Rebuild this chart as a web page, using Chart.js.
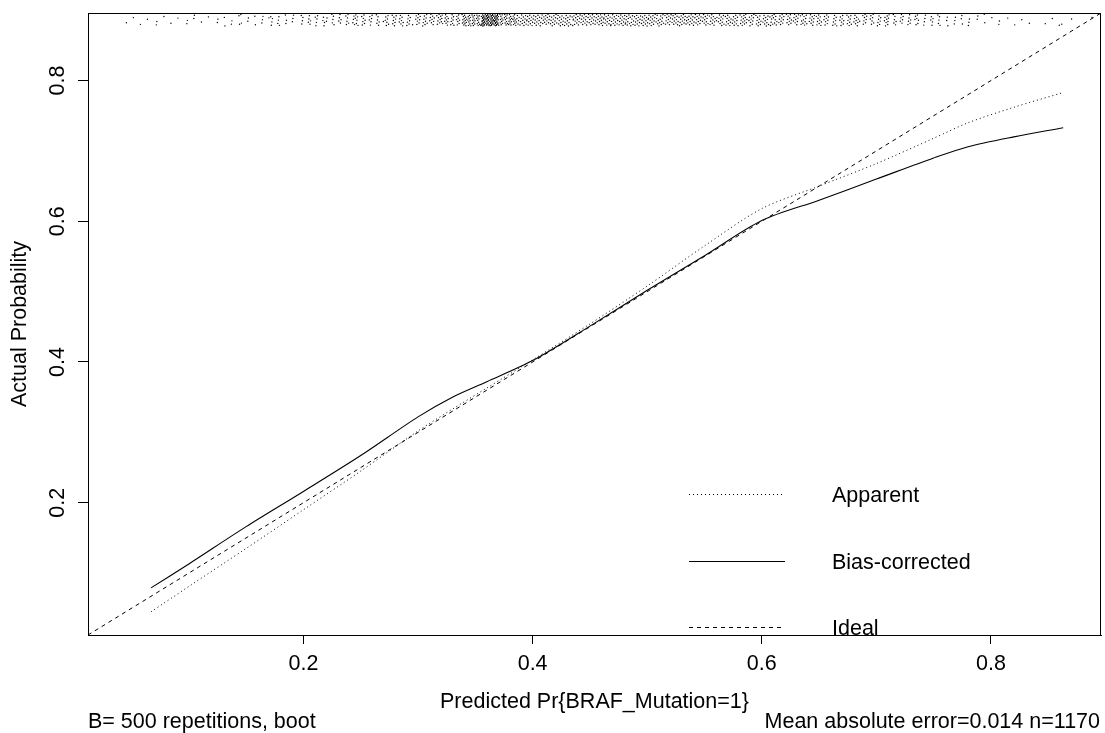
<!DOCTYPE html>
<html>
<head>
<meta charset="utf-8">
<script src="https://cdn.jsdelivr.net/npm/chart.js@4.4.1/dist/chart.umd.min.js"></script>
<style>
  body { margin: 0; background: #fff; }
  #wrap { width: 1105px; height: 733px; }
</style>
</head>
<body>
<div id="wrap"><canvas id="calib"></canvas></div>
<script>
'use strict';

// calibration curves
let predX = [0.067, 0.1, 0.15, 0.2, 0.25, 0.3, 0.33, 0.36, 0.4, 0.45, 0.5, 0.55, 0.6, 0.65, 0.7, 0.75, 0.78, 0.82, 0.863];
let apparent = [0.045, 0.081, 0.135, 0.19, 0.245, 0.302, 0.333, 0.363, 0.403, 0.454, 0.508, 0.565, 0.618, 0.65, 0.682, 0.718, 0.74, 0.762, 0.783];
let biasCorrected = [0.079, 0.113, 0.166, 0.216, 0.267, 0.322, 0.35, 0.372, 0.402, 0.451, 0.502, 0.551, 0.601, 0.63, 0.66, 0.69, 0.706, 0.72, 0.733];

let axisMin = 0.012;
let axisMax = 0.896;
let tickVals = [0.2, 0.4, 0.6, 0.8];

// distribution of predictions shown at the top (bin edges + counts)
let rugEdges = [0.045, 0.07, 0.095, 0.12, 0.145, 0.17, 0.195, 0.22, 0.245, 0.27, 0.295, 0.32, 0.34,
  0.355, 0.37, 0.385, 0.41, 0.435, 0.46, 0.485, 0.51, 0.535, 0.56, 0.585, 0.61, 0.635, 0.66,
  0.685, 0.71, 0.735, 0.76, 0.785, 0.81, 0.835, 0.86, 0.895];
let rugCounts = [4, 5, 6, 8, 10, 14, 18, 22, 26, 30, 36, 34, 40, 90, 40,
  50, 48, 50, 52, 50, 48, 46, 44, 42, 40, 38, 34, 30, 24, 18, 12, 7, 4, 3, 3];

let legendNames = ['Apparent', 'Bias-corrected', 'Ideal'];
let footLeft = 'B= 500 repetitions, boot';
let footRight = 'Mean absolute error=0.014 n=1170';

let FONT = '"Liberation Sans", Arial, Helvetica, sans-serif';

// rug points laid out in each bin with a low-discrepancy pattern
let rugPts = [];
for (let i = 0; i < rugCounts.length; i++) {
  let a = rugEdges[i], b = rugEdges[i + 1], c = rugCounts[i];
  for (let k = 0; k < c; k++) {
    let fx = (0.31 * i + (k + 1) * 0.7548776662) % 1;
    let fy = (0.53 * i + (k + 1) * 0.5698402910) % 1;
    rugPts.push({ x: a + fx * (b - a), y: 0.8775 + fy * 0.0168 });
  }
}

let styles = [
  { dash: [1, 3], width: 1 },
  { dash: [], width: 1.1 },
  { dash: [4, 4], width: 1 }
];

// box, y labels, legend and footer text
let extras = {
  id: 'extras',
  afterDraw(chart) {
    let ctx = chart.ctx;
    let a = chart.chartArea;
    ctx.save();
    ctx.strokeStyle = '#000';
    ctx.lineWidth = 1;
    ctx.setLineDash([]);
    ctx.strokeRect(a.left + 0.5, a.top + 0.5, a.right - a.left - 1, a.bottom - a.top);

    ctx.fillStyle = '#000';
    ctx.font = '21.5px ' + FONT;
    let ys = chart.scales.y;
    tickVals.forEach(v => {
      ctx.save();
      ctx.translate(58, ys.getPixelForValue(v));
      ctx.rotate(-Math.PI / 2);
      ctx.textAlign = 'center';
      ctx.textBaseline = 'middle';
      ctx.fillText(String(v), 0, 0);
      ctx.restore();
    });

    let legY = [494, 561, 627];
    legendNames.forEach((n, i) => {
      ctx.beginPath();
      ctx.setLineDash(styles[i].dash);
      ctx.lineWidth = styles[i].width;
      ctx.moveTo(689, legY[i] + 0.5);
      ctx.lineTo(785, legY[i] + 0.5);
      ctx.stroke();
      ctx.setLineDash([]);
      ctx.textAlign = 'left';
      ctx.textBaseline = 'middle';
      ctx.fillText(n, 832, legY[i] + 2);
    });

    ctx.textBaseline = 'middle';
    ctx.textAlign = 'left';
    ctx.fillText(footLeft, 88, 722);
    ctx.textAlign = 'right';
    ctx.fillText(footRight, 1100, 722);
    ctx.restore();
  }
};

let ctx = document.getElementById('calib').getContext('2d');
let chart = new Chart(ctx, {
  type: 'scatter',
  data: {
    datasets: [
      {
        label: legendNames[0],
        data: predX.map((x, i) => ({ x: x, y: apparent[i] })),
        showLine: true, borderColor: '#000', borderWidth: styles[0].width,
        borderDash: styles[0].dash, pointRadius: 0, tension: 0.3, fill: false
      },
      {
        label: legendNames[1],
        data: predX.map((x, i) => ({ x: x, y: biasCorrected[i] })),
        showLine: true, borderColor: '#000', borderWidth: styles[1].width,
        borderDash: styles[1].dash, pointRadius: 0, tension: 0.3, fill: false
      },
      {
        label: legendNames[2],
        data: [{ x: axisMin, y: axisMin }, { x: axisMax, y: axisMax }],
        showLine: true, borderColor: '#000', borderWidth: styles[2].width,
        borderDash: styles[2].dash, pointRadius: 0, fill: false
      },
      {
        label: 'rug',
        data: rugPts,
        pointRadius: 0.7, pointBorderWidth: 0,
        backgroundColor: '#000', borderColor: 'rgba(0,0,0,0)'
      }
    ]
  },
  options: {
    responsive: true,
    maintainAspectRatio: false,
    animation: false,
    layout: { padding: { top: 13, right: 4, left: 0, bottom: 0 } },
    plugins: { legend: { display: false }, tooltip: { enabled: false } },
    scales: {
      x: {
        type: 'linear', min: axisMin, max: axisMax,
        afterBuildTicks: s => { s.ticks = tickVals.map(v => ({ value: v })); },
        afterFit: s => { s.height = 98; },
        grid: { drawOnChartArea: false, drawTicks: true, tickLength: 9, color: '#000', tickWidth: 1 },
        border: { display: true, color: '#000', width: 1 },
        ticks: { color: '#000', font: { size: 21.5, family: FONT }, padding: 7, maxRotation: 0, callback: v => String(v) },
        title: { display: true, text: 'Predicted Pr{BRAF_Mutation=1}', color: '#000',
          font: { size: 21.5, family: FONT }, padding: { top: 0, bottom: 18 } }
      },
      y: {
        type: 'linear', min: axisMin, max: axisMax,
        afterBuildTicks: s => { s.ticks = tickVals.map(v => ({ value: v })); },
        afterFit: s => { s.width = 88; },
        grid: { drawOnChartArea: false, drawTicks: true, tickLength: 10, color: '#000', tickWidth: 1 },
        border: { display: true, color: '#000', width: 1 },
        ticks: { display: false },
        title: { display: true, text: 'Actual Probability', color: '#000',
          font: { size: 21.5, family: FONT }, padding: { top: 7, bottom: 0 } }
      }
    }
  },
  plugins: [extras]
});
</script>
</body>
</html>
